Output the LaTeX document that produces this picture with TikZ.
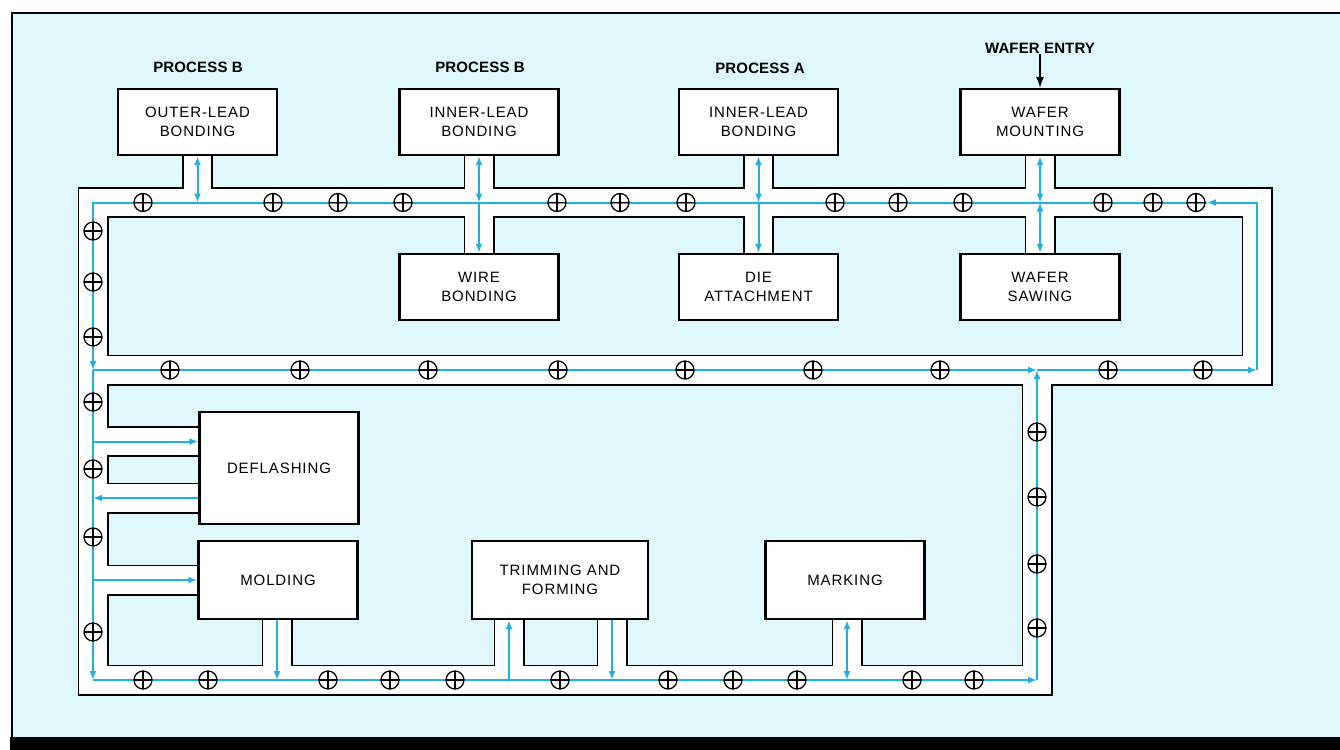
\documentclass[tikz,border=0pt]{standalone}
\usepackage{fontspec}
\newfontfamily\boxfont[LetterSpace=6]{Liberation Sans}
\newfontfamily\headfont[LetterSpace=1]{Liberation Sans}
\usetikzlibrary{arrows.meta}

\definecolor{bgcyan}{RGB}{222,247,251}
\definecolor{flowblue}{RGB}{30,176,228}

% conveyor network, drawn twice: wide black for the walls, then the white lane
\newcommand{\tracknet}[1]{%
  \draw[#1] (tl) -- (tr) -- (mr) -- (ml) -- cycle;
  \draw[#1] (ml) -- (bl) -- (bj) -- (mj);
  \draw[#1] (olb.south) -- (olb.south |- tl);
  \draw[#1] (ilbB.south) -- (ilbB.south |- tl);
  \draw[#1] (ilbA.south) -- (ilbA.south |- tl);
  \draw[#1] (wm.south) -- (wm.south |- tl);
  \draw[#1] (wb.north) -- (wb.north |- tl);
  \draw[#1] (da.north) -- (da.north |- tl);
  \draw[#1] (ws.north) -- (ws.north |- tl);
  \draw[#1] (dfin) -- (dfin -| df.west);
  \draw[#1] (dfout) -- (dfout -| df.west);
  \draw[#1] (mdin) -- (md.west);
  \draw[#1] (mdout) -- (mdout |- md.south);
  \draw[#1] (tfin) -- (tfin |- tf.south);
  \draw[#1] (tfout) -- (tfout |- tf.south);
  \draw[#1] (mkio) -- (mkio |- mk.south);
}

\begin{document}
\begin{tikzpicture}[x=1pt, y=-1pt,
    % process stations
    procbox/.style={draw, fill=white, line width=2.4pt, minimum width=159pt, minimum height=66pt,
      inner sep=0pt, align=center, font=\boxfont\fontsize{15}{19}\selectfont},
    proclabel/.style={font=\headfont\bfseries\fontsize{15}{18}\selectfont, inner sep=1pt},
    % track walls and lane
    trackedge/.style={draw=black, line width=31pt},
    trackfill/.style={draw=white, line width=27.4pt},
    % wafer flow
    flow/.style={draw=flowblue, line width=2pt, >={Latex[length=9pt,width=7pt]}},
    % carriers on the track
    carrier/.style={circle, draw, line width=1.3pt, minimum size=18pt, inner sep=0pt,
      path picture={\draw[line width=1.3pt] (path picture bounding box.north) -- (path picture bounding box.south)
        (path picture bounding box.west) -- (path picture bounding box.east);}}
]
\useasboundingbox (0,0) rectangle (1340,749);

% page frame
\fill[white] (0,0) rectangle (1340,749);
\fill[bgcyan] (12,13) rectangle (1342,737);
\draw[line width=2pt] (1342,13) -- (12,13) -- (12,737);
\fill[black] (10,737) rectangle (1342,751);

% track corners and side branches
\coordinate (tl) at (93,202.5);
\coordinate (tr) at (1257,202.5);
\coordinate (mr) at (1257,370);
\coordinate (ml) at (93,370);
\coordinate (bl) at (93,680);
\coordinate (bj) at (1037,680);
\coordinate (mj) at (1037,370);
\coordinate (tra) at (1207,202.5);
\coordinate (dfin) at (93,441.5);
\coordinate (dfout) at (93,498);
\coordinate (mdin) at (93,580);
\coordinate (mdout) at (277,680);
\coordinate (tfin) at (509,680);
\coordinate (tfout) at (612,680);
\coordinate (mkio) at (847,680);

% stations on the upper loop
\node[procbox] (olb) at (197.5,122) {OUTER-LEAD\\BONDING};
\node[procbox] (ilbB) at (479,122) {INNER-LEAD\\BONDING};
\node[procbox] (ilbA) at (758.5,122) {INNER-LEAD\\BONDING};
\node[procbox] (wm) at (1040,122) {WAFER\\MOUNTING};
\node[procbox] (wb) at (479,287) {WIRE\\BONDING};
\node[procbox] (da) at (758.5,287) {DIE\\ATTACHMENT};
\node[procbox] (ws) at (1040,287) {WAFER\\SAWING};

% stations on the lower loop
\node[procbox, minimum height=112pt] (df) at (279,468) {DEFLASHING};
\node[procbox, minimum height=78pt] (md) at (278,580) {MOLDING};
\node[procbox, minimum height=78pt, minimum width=176pt] (tf) at (560,580) {TRIMMING AND\\FORMING};
\node[procbox, minimum height=78pt] (mk) at (845,580) {MARKING};

% track
\tracknet{trackedge}
\tracknet{trackfill}

% main loop flow
\draw[flow,->] (mr) -- (tr) -- (tra);
\draw[flow,->] (tra) -- (tl) -- (ml);
\draw[flow,->] (ml) -- (bl);
\draw[flow,->] (bl) -- (bj);
\draw[flow,->] (bj) -- (mj);
\draw[flow,->] (ml) -- (mj);
\draw[flow,->] (mj) -- (mr);

% flow to and from the stations
\draw[flow,<->] (olb.south) -- (olb.south |- tl);
\draw[flow,<->] (ilbB.south) -- (ilbB.south |- tl);
\draw[flow,->] (wb.north |- tl) -- (wb.north);
\draw[flow,<->] (ilbA.south) -- (ilbA.south |- tl);
\draw[flow,->] (da.north |- tl) -- (da.north);
\draw[flow,<->] (wm.south) -- (wm.south |- tl);
\draw[flow,<->] (ws.north |- tl) -- (ws.north);
\draw[flow,->] (dfin) -- (dfin -| df.west);
\draw[flow,->] (dfout -| df.west) -- (dfout);
\draw[flow,->] (mdin) -- (md.west);
\draw[flow,->] (mdout |- md.south) -- (mdout);
\draw[flow,->] (tfin) -- (tfin |- tf.south);
\draw[flow,->] (tfout |- tf.south) -- (tfout);
\draw[flow,<->] (mkio |- mk.south) -- (mkio);

% carriers
\foreach \x [count=\i] in {143,273,338,403,557,620,686,835,898,963,1103,1153,1196}
  \node[carrier] (ct\i) at (\x,202.5) {};
\foreach \y [count=\i] in {231,282,337,402,469,537,632}
  \node[carrier] (cl\i) at (93,\y) {};
\foreach \x [count=\i] in {170,300,428,558,685,813,940,1108,1203}
  \node[carrier] (cm\i) at (\x,370) {};
\foreach \y [count=\i] in {432,497,564,628}
  \node[carrier] (cr\i) at (1037,\y) {};
\foreach \x [count=\i] in {143,208,328,390,455,560,668,733,797,912,974}
  \node[carrier] (cb\i) at (\x,680) {};

% process headings
\node[proclabel] (procB1) at (198,67) {PROCESS B};
\node[proclabel] (procB2) at (480,67) {PROCESS B};
\node[proclabel] (procA) at (760,68) {PROCESS A};
\node[proclabel] (entry) at (1040,48) {WAFER ENTRY};
\draw[line width=1.3pt, -{Latex[length=11pt,width=8pt]}] (entry) -- (wm);

\end{tikzpicture}
\end{document}
